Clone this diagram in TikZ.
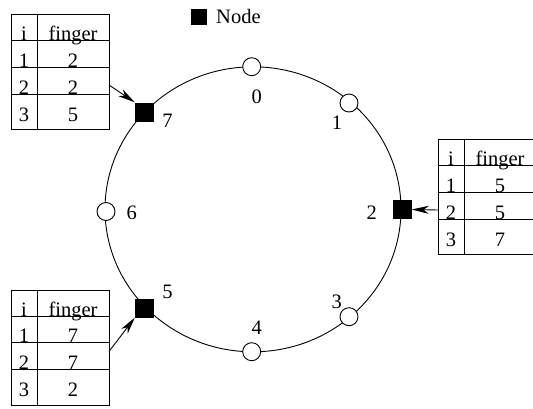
\documentclass[tikz,border=0pt]{standalone}
\usepackage{fontspec}
\setmainfont{Liberation Serif}
\usetikzlibrary{arrows.meta}
\tikzset{
  txt/.style={inner sep=0pt, font=\fontsize{20.5}{24}\selectfont},
  peer/.style={circle, draw, fill=white, minimum size=18pt, inner sep=0pt, line width=0.9pt},
  fnode/.style={rectangle, fill=black, minimum size=19pt, inner sep=0pt},
  ring/.style={line width=0.9pt},
  tline/.style={line width=0.9pt},
  arr/.style={line width=0.9pt, -{Stealth[length=17pt, width=8pt, inset=5pt]}},
}
\newcommand\fingertab[6]{%
  \begin{scope}[shift={(#2,#3)}]
    \node[draw, line width=0.9pt, minimum width=98pt, minimum height=115pt, inner sep=0pt, anchor=north west] (#1) at (0,0) {};
    \draw[tline] (0,26.7) -- (98,26.7);
    \draw[tline] (0,53.3) -- (98,53.3);
    \draw[tline] (0,80) -- (98,80);
    \draw[tline] (26,0) -- (26,115);
    \node[txt, anchor=base] (#1hi) at (13,26.7) {i};
    \node[txt, anchor=base] (#1hf) at (62,26.7) {finger};
    \node[txt, anchor=base] (#1i1) at (13,53.3) {1};
    \node[txt, anchor=base] (#1v1) at (62,53.3) {#4};
    \node[txt, anchor=base] (#1i2) at (13,80) {2};
    \node[txt, anchor=base] (#1v2) at (62,80) {#5};
    \node[txt, anchor=base] (#1i3) at (13,107) {3};
    \node[txt, anchor=base] (#1v3) at (62,107) {#6};
  \end{scope}}
\begin{document}
\begin{tikzpicture}[x=1pt, y=-1pt]
\useasboundingbox (0,0) rectangle (533,408);
% ring
\draw[ring] (253,209.3) ellipse [x radius=148, y radius=142.5];
% nodes
\node[peer]  (n0) at (251.7,66.7) {};
\node[peer]  (n1) at (349,103) {};
\node[fnode] (n2) at (402,209.5) {};
\node[peer]  (n3) at (349,316.7) {};
\node[peer]  (n4) at (251.7,351.7) {};
\node[fnode] (n5) at (144.5,308) {};
\node[peer]  (n6) at (106,211.5) {};
\node[fnode] (n7) at (144.5,112) {};
% labels
\node[txt] (l0) at (256.7,96.7) {0};
\node[txt] (l1) at (337,123) {1};
\node[txt] (l2) at (371.7,212.5) {2};
\node[txt] (l3) at (336.7,301.7) {3};
\node[txt] (l4) at (256.7,328) {4};
\node[txt] (l5) at (167.5,291.7) {5};
\node[txt] (l6) at (131.7,213) {6};
\node[txt] (l7) at (167.5,121) {7};
% legend
\node[fnode, minimum size=16pt] (legsq) at (199,17) {};
\node[txt, anchor=base west] (legtx) at (216,23.5) {Node};
% tables
\fingertab{t7}{11}{14}{2}{2}{5}
\fingertab{t2}{438}{139}{5}{5}{7}
\fingertab{t5}{11}{289.5}{7}{7}{2}
% arrows
\coordinate (a7) at (109,85);
\coordinate (a2) at (438,210);
\coordinate (a5) at (109,351.5);
\draw[arr] (a7) -- (n7.north west);
\draw[arr] (a2) -- (n2.east);
\draw[arr] (a5) -- (n5.south west);
\end{tikzpicture}
\end{document}
